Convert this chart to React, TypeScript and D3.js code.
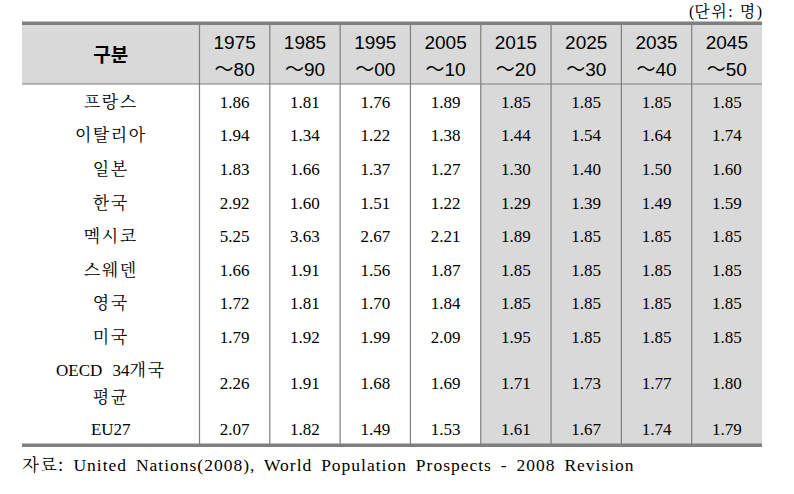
import React from "react";
import * as d3 from "d3";

const periodStarts = ["1975", "1985", "1995", "2005", "2015", "2025", "2035", "2045"];
const periodEnds = ["80", "90", "00", "10", "20", "30", "40", "50"];
const rowLabels = ["프랑스", "이탈리아", "일본", "한국", "멕시코", "스웨덴", "영국", "미국", "OECD 34개국|평균", "EU27"];
const france = [1.86, 1.81, 1.76, 1.89, 1.85, 1.85, 1.85, 1.85];
const italy = [1.94, 1.34, 1.22, 1.38, 1.44, 1.54, 1.64, 1.74];
const japan = [1.83, 1.66, 1.37, 1.27, 1.30, 1.40, 1.50, 1.60];
const korea = [2.92, 1.60, 1.51, 1.22, 1.29, 1.39, 1.49, 1.59];
const mexico = [5.25, 3.63, 2.67, 2.21, 1.89, 1.85, 1.85, 1.85];
const sweden = [1.66, 1.91, 1.56, 1.87, 1.85, 1.85, 1.85, 1.85];
const uk = [1.72, 1.81, 1.70, 1.84, 1.85, 1.85, 1.85, 1.85];
const usa = [1.79, 1.92, 1.99, 2.09, 1.95, 1.85, 1.85, 1.85];
const oecd = [2.26, 1.91, 1.68, 1.69, 1.71, 1.73, 1.77, 1.80];
const eu27 = [2.07, 1.82, 1.49, 1.53, 1.61, 1.67, 1.74, 1.79];
const rowValues = [france, italy, japan, korea, mexico, sweden, uk, usa, oecd, eu27];
const rowWeights = [1, 1, 1, 1, 1, 1, 1, 1, 1.74, 1];
const shadedFrom = 4;
const headerLabel = "구분";
const unitLabel = "(단위: 명)";
const sourcePrefix = "자료:";
const sourceNote = "United Nations(2008), World Population Prospects -  2008 Revision";

const W = 794, H = 494;
const left = 22, right = 762, labelRight = 199.5;
const top = 25, headerBottom = 84, bottom = 445;
const gray = "#7f7f7f", shade = "#d9d9d9";

const latinSerif = { fontFamily: "Liberation Serif" };
const krSerif = { fontFamily: "Noto Serif CJK KR" };
const latinSans = { fontFamily: "Liberation Sans" };
const krSans = { fontFamily: "Noto Sans CJK KR" };

const isHangul = (s: string) => /[\u3131-\uD7A3]/.test(s);

function MixedText({ text, krSpacing = 0, ...rest }: any) {
  const runs: string[] = text.match(/[\u3131-\uD7A3]+|[^\u3131-\uD7A3]+/g) || [];
  return (
    <text {...rest}>
      {runs.map((r, i) => (
        <tspan key={i} style={isHangul(r) ? krSerif : latinSerif} letterSpacing={isHangul(r) ? krSpacing : undefined}>{r}</tspan>
      ))}
    </text>
  );
}

export default function App() {
  const x = d3.scaleBand<number>().domain(d3.range(periodStarts.length)).range([labelRight, right]).padding(0);
  const cum = [0, ...d3.cumsum(rowWeights)];
  const y = d3.scaleLinear().domain([0, cum[cum.length - 1]]).range([headerBottom, bottom]);
  const bw = x.bandwidth();
  const labelX = (left + labelRight) / 2;

  return (
    <svg width={W} height={H} style={{ position: "absolute", left: 0, top: 0, background: "#fff" }}>
      <rect x={left} y={top} width={right - left} height={headerBottom - top} fill={shade} />
      <rect x={x(shadedFrom)!} y={headerBottom} width={right - x(shadedFrom)!} height={bottom - headerBottom} fill={shade} />
      {[labelRight, ...d3.range(1, periodStarts.length).map((i) => x(i)!)].map((xv, i) => (
        <line key={i} x1={xv} x2={xv} y1={top} y2={bottom} stroke={gray} strokeWidth={1.2} />
      ))}
      <line x1={left} x2={right} y1={headerBottom} y2={headerBottom} stroke={gray} strokeWidth={1.2} />
      <rect x={left} y={top - 3.5} width={right - left} height={3.5} fill={gray} />
      <rect x={left} y={bottom - 1.5} width={right - left} height={3.5} fill={gray} />

      <text x={labelX} y={(top + headerBottom) / 2 + 7} textAnchor="middle" style={krSans} fontSize={19} fontWeight={700} fill="#000">
        {headerLabel}
      </text>
      {periodStarts.map((p, i) => {
        const cx = x(i)! + bw / 2;
        return (
          <g key={i}>
            <text x={cx} y={49} textAnchor="middle" style={latinSans} fontSize={19} fill="#000">{p}</text>
            <text x={cx} y={76} textAnchor="middle" fontSize={19} fill="#000">
              <tspan style={krSans}>～</tspan>
              <tspan style={latinSans}>{periodEnds[i]}</tspan>
            </text>
          </g>
        );
      })}

      {rowLabels.map((lab, r) => {
        const cy = (y(cum[r]) + y(cum[r + 1])) / 2;
        const parts = lab.split("|");
        return (
          <g key={r}>
            {parts.map((pp, k) => (
              <MixedText key={k} text={pp} krSpacing={1.5} wordSpacing={6} x={labelX} y={cy + 7 + (k - (parts.length - 1) / 2) * 27} textAnchor="middle" fontSize={17} fill="#000" />
            ))}
            {rowValues[r].map((v, i) => (
              <text key={i} x={x(i)! + bw / 2} y={cy + 7} textAnchor="middle" style={latinSerif} fontSize={17} fill="#000">{v.toFixed(2)}</text>
            ))}
          </g>
        );
      })}

      <MixedText text={unitLabel} krSpacing={1.5} wordSpacing={3} x={right} y={17} textAnchor="end" fontSize={16} fill="#000" />
      <text x={22} y={471} fontSize={17.5} fill="#000" wordSpacing={3.5} letterSpacing={1}>
        <tspan style={krSerif}>{sourcePrefix}</tspan>
        <tspan style={latinSerif}> {sourceNote}</tspan>
      </text>
    </svg>
  );
}
